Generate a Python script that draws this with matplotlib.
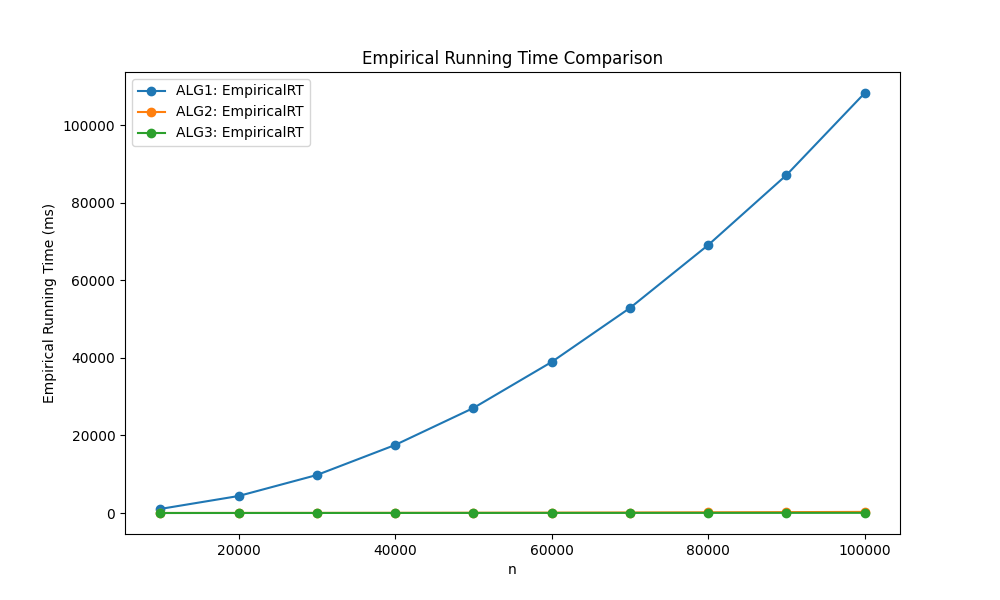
import matplotlib
matplotlib.use("Agg")
import matplotlib.pyplot as plt

# input sizes and measured times (ms)
n = [10000, 20000, 30000, 40000, 50000, 60000, 70000, 80000, 90000, 100000]
alg1 = [1050, 4380, 9790, 17530, 27060, 38920, 52840, 69070, 87110, 108250]
alg2 = [10, 20, 35, 50, 70, 95, 130, 180, 230, 290]
alg3 = [5, 10, 15, 20, 25, 30, 35, 40, 45, 50]

fig, ax = plt.subplots(figsize=(10, 6), dpi=100)
ax.plot(n, alg1, marker='o', label='ALG1: EmpiricalRT')
ax.plot(n, alg2, marker='o', label='ALG2: EmpiricalRT')
ax.plot(n, alg3, marker='o', label='ALG3: EmpiricalRT')
ax.set_title('Empirical Running Time Comparison')
ax.set_xlabel('n')
ax.set_ylabel('Empirical Running Time (ms)')
ax.legend(loc='upper left')
fig.savefig('out.png')
